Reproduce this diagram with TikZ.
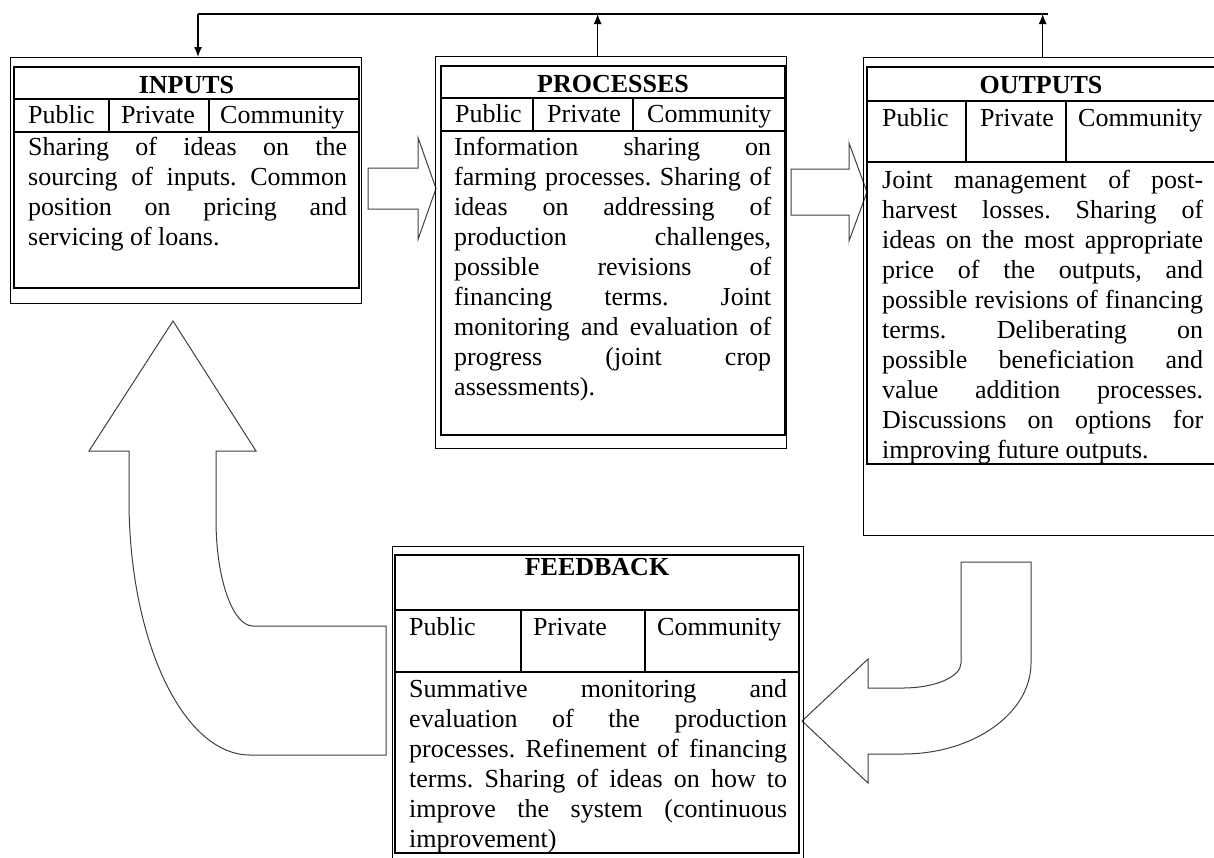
\documentclass[tikz,border=0pt]{standalone}
\usepackage{fontspec}
\setmainfont{Liberation Serif}
\usetikzlibrary{arrows.meta}
\frenchspacing

\def\boxfont{\fontsize{26}{30}\selectfont}

\tikzset{
  frame/.style={draw, line width=1.3pt, anchor=north west, inner sep=0pt},
  rule/.style={line width=1.3pt},
  title/.style={font=\boxfont\bfseries, anchor=base, inner sep=0pt},
  head/.style={anchor=base west, inner sep=0pt},
  body/.style={anchor=north west, inner sep=0pt, align=justify,
    execute at begin node={\frenchspacing\tolerance=10000\hyphenpenalty=10000\strut}},
  hollow/.style={draw=black!75, line width=1pt, fill=white},
  link/.style={line width=1.2pt}
}

\begin{document}
\begin{tikzpicture}[x=1pt, y=-1pt, font=\boxfont]
\useasboundingbox (0,0) rectangle (1214,857);

% block arrows
\draw[hollow] (368,168) -- (418,168) -- (418,137.5) -- (436,188.5) -- (418,239.5) -- (418,209) -- (368,209) -- cycle;
\draw[hollow] (791,169) -- (849,169) -- (849,143) -- (867,192) -- (849,241) -- (849,215) -- (791,215) -- cycle;
\draw[hollow] (802,721) -- (868,659) -- (868,688) -- (903,688)
	.. controls (935,688) and (961,676.8) .. (961,663) -- (961,562) -- (1031,562) -- (1031,663)
	.. controls (1031,713.2) and (973.7,754) .. (903,754) -- (868,754) -- (868,783) -- cycle;
\draw[hollow] (173,321) -- (256,451) -- (216,451) -- (216,520)
	.. controls (216,578.5) and (232.6,626) .. (253,626) -- (386,626) -- (386,755) -- (250,755)
	.. controls (183.2,755) and (129,640.8) .. (129,500) -- (129,451) -- (89,451) -- cycle;

% inputs
\node[frame, minimum width=351pt, minimum height=246pt] (inputs) at (10,57) {};
\draw[rule] (14,67) rectangle (359,288);
\draw[rule] (14,99) -- (359,99) (14,132) -- (359,132) (109,99) -- (109,132) (209,99) -- (209,132);
\node[title] (inputs title) at (186.5,93) {INPUTS};
\node[head] (inputs public) at (28,123) {Public};
\node[head] (inputs private) at (121,123) {Private};
\node[head] (inputs community) at (220,123) {Community};
\node[body, text width=319pt] (inputs text) at (28,134) {Sharing of ideas on the\linebreak
	sourcing of inputs. Common\linebreak position on pricing and\linebreak servicing of loans.};

% processes
\node[frame, minimum width=351pt, minimum height=392pt] (processes) at (435,56) {};
\draw[rule] (441,66) rectangle (785,435);
\draw[rule] (441,98) -- (785,98) (441,131) -- (785,131) (533,98) -- (533,131) (633,98) -- (633,131);
\node[title] (processes title) at (613,92) {PROCESSES};
\node[head] (processes public) at (455,122) {Public};
\node[head] (processes private) at (547,122) {Private};
\node[head] (processes community) at (647,122) {Community};
\node[body, text width=317pt] (processes text) at (454,134) {Information sharing on\linebreak
	farming processes. Sharing of\linebreak ideas on addressing of\linebreak
	production challenges,\linebreak possible revisions of\linebreak
	financing terms. Joint\linebreak monitoring and evaluation of\linebreak
	progress (joint crop\linebreak assessments).};

% outputs
\node[frame, minimum width=355pt, minimum height=478pt] (outputs) at (863,57) {};
\draw[rule] (867,67) rectangle (1215,464);
\draw[rule] (867,101) -- (1215,101) (867,162) -- (1215,162) (966,101) -- (966,162) (1066,101) -- (1066,162);
\node[title] (outputs title) at (1041,93) {OUTPUTS};
\node[head] (outputs public) at (882,126) {Public};
\node[head] (outputs private) at (980,126) {Private};
\node[head] (outputs community) at (1078,126) {Community};
\node[body, text width=321pt] (outputs text) at (882,167) {Joint management of post-\linebreak
	harvest losses. Sharing of\linebreak ideas on the most appropriate\linebreak
	price of the outputs, and\linebreak possible revisions of financing\linebreak
	terms. Deliberating on\linebreak possible beneficiation and\linebreak
	value addition processes.\linebreak Discussions on options for\linebreak
	improving future outputs.};

% feedback
\node[frame, minimum width=411pt, minimum height=316pt] (feedback) at (392,546) {};
\draw[rule] (395,555) rectangle (799,853);
\draw[rule] (395,610) -- (799,610) (395,672) -- (799,672) (521,610) -- (521,672) (645,610) -- (645,672);
\node[title] (feedback title) at (597,575) {FEEDBACK};
\node[head] (feedback public) at (409,635) {Public};
\node[head] (feedback private) at (533,635) {Private};
\node[head] (feedback community) at (657,635) {Community};
\node[body, text width=378pt] (feedback text) at (409,676) {Summative monitoring and\linebreak
	evaluation of the production\linebreak processes. Refinement of financing\linebreak
	terms. Sharing of ideas on how to\linebreak improve the system (continuous\linebreak
	improvement)};

% top loop
\coordinate (bus w) at (198,14);
\coordinate (bus e) at (1048,14);
\draw[link] (bus w) -- (bus e);
\draw[link, -{Latex[length=10pt,width=8pt]}] (bus w) -- (bus w |- inputs.north);
\draw[link, -{Latex[length=10pt,width=8pt]}] ([xshift=-13.5pt]processes.north) -- ([xshift=-13.5pt]processes.north |- bus w);
\draw[link, -{Latex[length=10pt,width=8pt]}] ([xshift=1.5pt]outputs.north) -- ([xshift=1.5pt]outputs.north |- bus w);
\end{tikzpicture}
\end{document}
